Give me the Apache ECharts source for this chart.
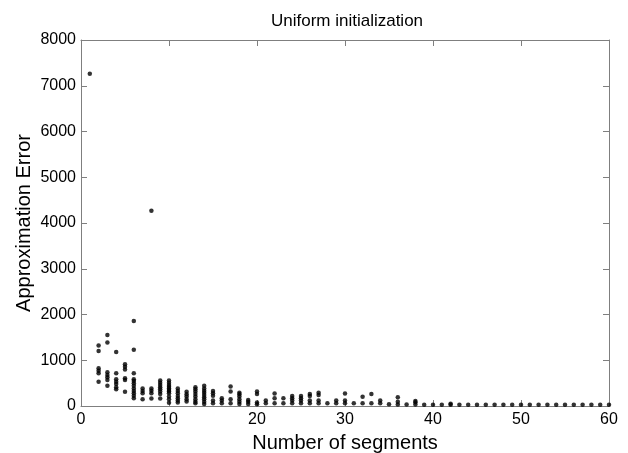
<!DOCTYPE html>
<html>
<head>
<meta charset="utf-8">
<script src="https://cdn.jsdelivr.net/npm/echarts@6/dist/echarts.min.js"></script>
<style>
  html, body { margin: 0; padding: 0; background: #fff; }
  #chart { width: 628px; height: 453px; }
</style>
</head>
<body>
<div id="chart"></div>
<script>
// number of segments (x) and the errors observed for each
const segments = [];
for (let s = 1; s <= 60; s++) segments.push(s);

const errors = [
  [7260],
  [1320, 1200, 825, 770, 715, 530],
  [1550, 1390, 740, 680, 630, 570, 445],
  [1180, 715, 585, 530, 480, 410, 365],
  [910, 860, 800, 605, 570, 310],
  [1860, 1230, 715, 585, 545, 495, 440, 385, 330, 280, 225, 170],
  [385, 330, 280, 150],
  [4270, 385, 335, 280, 165],
  [555, 510, 460, 410, 365, 315, 265, 165],
  [560, 510, 460, 420, 385, 350, 315, 280, 205, 145, 70],
  [385, 330, 280, 220, 170, 120, 75],
  [310, 255, 205, 150, 100],
  [410, 365, 315, 265, 205, 150, 95, 60],
  [440, 385, 335, 290, 240, 190, 145, 95, 45],
  [330, 280, 225, 120, 60],
  [170, 120, 60],
  [425, 315, 150, 60],
  [290, 255, 205, 150, 95, 45],
  [130, 95, 45],
  [315, 265, 75, 40],
  [120, 60],
  [275, 170, 60],
  [170, 60],
  [220, 170, 120, 60],
  [220, 170, 120, 60],
  [265, 220, 120, 60],
  [290, 240, 120, 60],
  [60],
  [120, 60],
  [275, 120, 60],
  [60],
  [200, 60],
  [265, 60],
  [120, 60],
  [40],
  [190, 95, 35],
  [35],
  [110, 80, 35],
  [30], [30], [30], [50, 30], [30], [30], [30], [30], [30], [30], [30], [30], [30],
  [30], [30], [30], [30], [30], [30], [30], [30], [30], [30]
];

const xTicks = [0, 10, 20, 30, 40, 50, 60];
const yTicks = [0, 1000, 2000, 3000, 4000, 5000, 6000, 7000, 8000];

const points = [];
segments.forEach((s, i) => {
  (errors[i] || []).forEach(v => points.push([s, v]));
});

const chart = echarts.init(document.getElementById('chart'));
const font = 'Liberation Sans, Arial, Helvetica, sans-serif';
const axisGray = '#7f7f7f';

const baseX = {
  type: 'value',
  min: xTicks[0],
  max: xTicks[xTicks.length - 1],
  interval: 10,
  splitLine: { show: false },
  axisLine: { show: true, onZero: false, lineStyle: { color: axisGray, width: 1 } },
  axisTick: { show: true, inside: true, length: 6, lineStyle: { color: axisGray } }
};
const baseY = {
  type: 'value',
  min: yTicks[0],
  max: yTicks[yTicks.length - 1],
  interval: 1000,
  splitLine: { show: false },
  axisLine: { show: true, onZero: false, lineStyle: { color: axisGray, width: 1 } },
  axisTick: { show: true, inside: true, length: 6, lineStyle: { color: axisGray } }
};

chart.setOption({
  animation: false,
  backgroundColor: '#fff',
  title: {
    text: 'Uniform initialization',
    left: 342,
    textAlign: 'center',
    top: 8,
    textStyle: { fontFamily: font, fontSize: 17, fontWeight: 'normal', color: '#000' }
  },
  grid: { left: 81, right: 19, top: 40, bottom: 47, outerBoundsMode: 'none', containLabel: false },
  xAxis: [
    Object.assign({}, baseX, {
      position: 'bottom',
      name: 'Number of segments',
      nameLocation: 'middle',
      nameGap: 27,
      nameMoveOverlap: false,
      nameTextStyle: { fontFamily: font, fontSize: 20, color: '#000' },
      axisLabel: { fontFamily: font, fontSize: 16, color: '#000', margin: 6 }
    }),
    Object.assign({}, baseX, { position: 'top', axisLabel: { show: false } })
  ],
  yAxis: [
    Object.assign({}, baseY, {
      position: 'left',
      name: 'Approximation Error',
      nameLocation: 'middle',
      nameGap: 47,
      nameMoveOverlap: false,
      nameTextStyle: { fontFamily: font, fontSize: 20, color: '#000' },
      axisLabel: { fontFamily: font, fontSize: 16, color: '#000', margin: 5, formatter: v => String(v) }
    }),
    Object.assign({}, baseY, { position: 'right', axisLabel: { show: false } })
  ],
  series: [{
    type: 'scatter',
    xAxisIndex: 0,
    yAxisIndex: 0,
    data: points,
    symbol: 'circle',
    symbolSize: 4.5,
    itemStyle: { color: '#000' }
  }]
});
</script>
</body>
</html>
